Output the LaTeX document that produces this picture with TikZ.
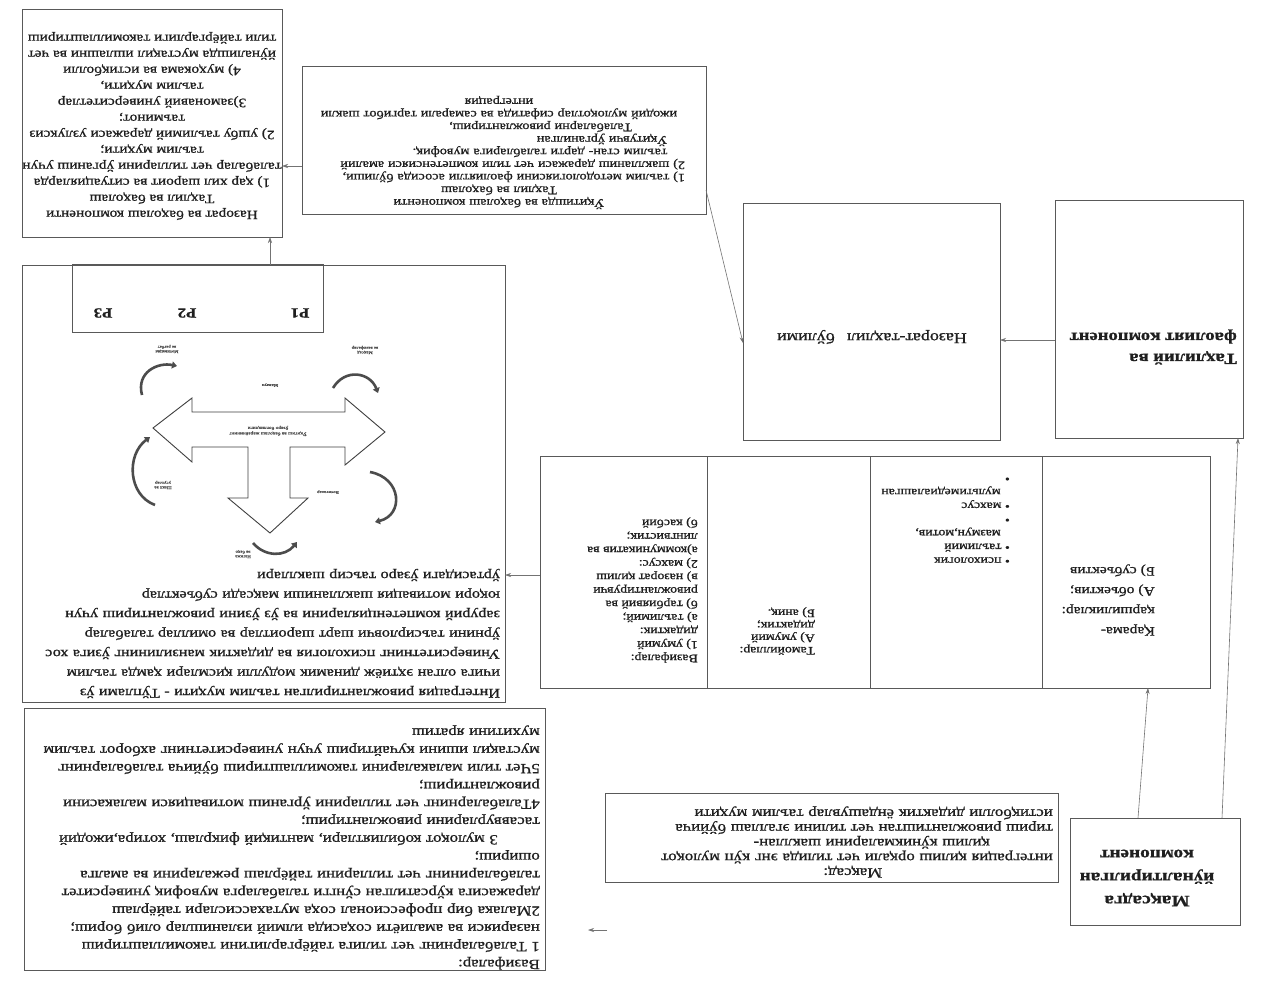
\documentclass[tikz,border=0pt]{standalone}
\usepackage{fontspec}
\setmainfont{Liberation Serif}[FakeStretch=1.2, FakeBold=1.0]
\usetikzlibrary{arrows.meta,calc}
\begin{document}
\begin{tikzpicture}[x=1pt,y=-1pt,
  bx/.style={draw=black!65, line width=0.8pt, inner sep=0pt, outer sep=0pt},
  tx/.style={rotate=180, inner sep=0pt, text=black!88},
  conn/.style={draw=black!55, line width=0.6pt, -{Stealth[length=6pt,width=4pt]}},
  curv/.style={draw=black!70, line width=2.6pt, -{Triangle[length=5pt,width=7pt]}},
  tiny/.style={rotate=180, inner sep=0pt, font=\fontsize{4}{4.6}\selectfont, text=black!70, align=center},
  bigarrow/.style={draw=black!75, line width=0.9pt, fill=white},
]
\useasboundingbox (0,0) rectangle (1284,980);
\fill[white] (0,0) rectangle (1284,980);

% ---------- boxes ----------
\node[bx,minimum width=260pt,minimum height=228pt] (tl) at (152,123) {};
\node[bx,minimum width=404pt,minimum height=148pt] (uq) at (504,140) {};
\node[bx,minimum width=483pt,minimum height=437pt] (big) at (263.5,483.5) {};
\node[bx,minimum width=251pt,minimum height=68pt] (pb) at (197.5,298) {};
\node[bx,minimum width=257pt,minimum height=237pt] (naz) at (871.5,321.5) {};
\node[bx,minimum width=188pt,minimum height=238pt] (tah) at (1149,319) {};
\node[bx,minimum width=167pt,minimum height=232pt] (ra) at (623.5,572) {};
\node[bx,minimum width=163pt,minimum height=232pt] (rb) at (788.5,572) {};
\node[bx,minimum width=172pt,minimum height=232pt] (rc) at (956,572) {};
\node[bx,minimum width=168pt,minimum height=232pt] (rd) at (1126,572) {};
\node[bx,minimum width=453pt,minimum height=89pt] (maq) at (831.5,837.5) {};
\node[bx,minimum width=170pt,minimum height=107pt] (mql) at (1155,871.5) {};
\node[bx,minimum width=521pt,minimum height=262pt] (vaz) at (284.5,839) {};

% ---------- texts ----------
\node[tx, align=center, font=\fontsize{12.8}{16}\selectfont] (tlt) at (152,126) {%
Назорат ва баҳолаш компоненти\\
Таҳлил ва баҳолаш\\
1) ҳар хил шароит ва ситуацияларда\\
талабалар чет тилларини ўрганиш учун\\
таълим муҳити;\\
2) ушбу таълимий даражаси узлуксиз\\
таъминот;\\
3)замонавий университетлар\\
таълим муҳити,\\
4) муҳокама ва истиқболли\\
йўналишда мустақил ишлашни ва чет\\
тили тайёргарлиги такомиллаштириш};

\node[tx, align=left, text width=372pt, font=\fontsize{11.8}{12.6}\selectfont] (uqt) at (499,152.5) {%
\makebox[\hsize]{Ўқитишда ва баҳолаш компоненти}\\
\makebox[\hsize]{Таҳлил ва баҳолаш}\\
1) таълим методологиясини фаолиятли асосида бўлиши,\\
2) шаклланиш даражаси чет тили компетенсияси амалий\\
\hspace*{1.5em}таълим стан- дарти талабларига мувофиқ.\\
\hspace*{1.5em}Ўқитувчи ўрганилган\\
\hspace*{4.5em}Талабаларни ривожлантириш,\\
\makebox[\hsize]{ижодий мулоқотлар сифатида ва самарали таргибот шакли}\\
\makebox[\hsize]{интеграция}};

\node[tx, align=left, text width=473pt, font=\fontsize{13.5}{19.5}\selectfont] (bigt) at (263.5,633.5) {%
\makebox[\hsize][s]{Интеграция ривожлантирилган таълим муҳити - Тўплами ўз}\\
\makebox[\hsize][s]{ичига олган эҳтиёж динамик модулли қисмлари ҳамда таълим}\\
\makebox[\hsize][s]{Университетнинг психология ва дидактик манзилининг ўзига хос}\\
\makebox[\hsize][s]{ўрнини таъсирловчи шарт шароитлар ва омиллар талабалар}\\
\makebox[\hsize][s]{зарурий компетенцияларини ва ўз ўзини ривожлантириш учун}\\
\makebox[\hsize][s]{юқори мотивация шаклланиши мақсади субъектлар}\\
ўртасидаги ўзаро таъсир шакллари};

\node[tx, font=\fontsize{14}{14}\selectfont\bfseries] (p1) at (300,313) {P1};
\node[tx, font=\fontsize{14}{14}\selectfont\bfseries] (p2) at (187,313) {P2};
\node[tx, font=\fontsize{14}{14}\selectfont\bfseries] (p3) at (103,313) {P3};

\node[tx, font=\fontsize{15}{18}\selectfont] (nazt) at (872,337) {Назорат-таҳлил\hspace{0.8em}бўлими};
\node[tx, anchor=west, align=left, font=\fontsize{15.5}{21}\selectfont\bfseries] (taht) at (1237,347) {Таҳлилий ва\\фаолият компонент};
\node[tx, align=center, font=\fontsize{16}{23}\selectfont\bfseries] (mqlt) at (1147,878) {Мақсадга\\йўналтирилган\\компонент};

\node[tx, align=left, text width=400pt, anchor=west, font=\fontsize{14}{14.75}\selectfont] (maqt) at (1053,842) {%
\makebox[\hsize]{Мақсад:}\\
интеграция қилиш орқали чет тилида энг кўп мулоқот\\
\hspace*{4.5em}қилиш кўникмаларини шакллан-\\
тириш ривожлантиштан чет тилини эгаллаш бўйича\\
истиқболли дидактик ёндашувлар таълим муҳити};

\node[tx, align=left, text width=500pt, anchor=west, font=\fontsize{14}{17.8}\selectfont] (vazt) at (540,847.5) {%
Вазифалар:\\
\makebox[\hsize][s]{1 Талабаларнинг чет тилига тайёргарлигини такомиллаштириш}\\
\makebox[\hsize][s]{назарияси ва амалиёти соҳасида илмий изланишлар олиб бориш;}\\
\makebox[\hsize][s]{2Малака бир профессионал соҳа мутахассислари тайёрлаш}\\
\makebox[\hsize][s]{даражасига кўрсатилган сўнгги талабаларга мувофиқ университет}\\
\makebox[\hsize][s]{талабаларининг чет тилларини тайёрлаш режаларини ва амалга}\\
ошириш;\\
\hspace*{3em}3 мулоқот кобилиятлари, мантиқий фикрлаш, хотира,ижодий\\
тасаввурларини ривожлантириш;\\
\makebox[\hsize][s]{4Талабаларнинг чет тилларини ўрганиш мотивацияси малакасини}\\
ривожлантириш;\\
\makebox[\hsize][s]{5Чет тили малакаларини такомиллаштириш бўйича талабаларнинг}\\
\makebox[\hsize][s]{мустақил ишини кучайтириш учун университетнинг ахборот таълим}\\
мухитини яратиш};

\node[tx, anchor=west, align=left, font=\fontsize{11.5}{13.5}\selectfont] (rat) at (698,590) {%
Вазифалар:\\
1) умумий\\
дидактик:\\
а) таълимий;\\
б) тарбиявий ва\\
ривожлантирувчи\\
в) назорат қилиш\\
2) махсус:\\
а)коммуникатив ва\\
лингвистик;\\
б) касбий};

\node[tx, anchor=west, align=left, font=\fontsize{11.5}{12.5}\selectfont] (rbt) at (815,631) {%
Тамойиллар:\\
А) умумий\\
дидактик;\\
Б) аниқ.};

\node[tx, anchor=west, align=left, font=\fontsize{11.5}{13.7}\selectfont] (rct) at (1010,519) {%
• психологик\\
• таълимий\\
\hspace*{0.8em}мазмун,мотив,\\
•\\
• махсус\\
\hspace*{0.8em}мультимедиалашган\\
•};

\node[tx, anchor=west, align=left, font=\fontsize{13}{20}\selectfont] (rdt) at (1155,600) {%
Қарама-\\
қаршиликлар:\\
А) объектив;\\
Б) субъектив};

% ---------- diagram inside big box ----------
\draw[bigarrow] (153,428) -- (192,398) -- (192,412) -- (345,412) -- (345,398) -- (385,432)
  -- (345,465) -- (345,447) -- (290,447) -- (290,498) -- (308,498) -- (270,533)
  -- (228,498) -- (248,498) -- (248,447) -- (192,447) -- (192,462) -- cycle;
\node[tiny, font=\fontsize{4.5}{5.5}\selectfont] (arrt) at (268,431) {Ўқитиш ва баҳолаш жараёнининг\\ ўзаро боғлиқлиги};
\draw[curv] (142,395) .. controls (136,372) and (158,362) .. (177,366);
\draw[curv] (333,388) .. controls (345,368) and (370,372) .. (378,393);
\draw[curv, {Triangle[length=5pt,width=7pt]}-] (150,437) .. controls (126,455) and (128,495) .. (155,505);
\draw[curv] (370,472) .. controls (402,478) and (404,515) .. (375,522);
\draw[curv] (253,543) .. controls (265,557) and (285,557) .. (297,542);
\node[tiny] (l1) at (167,349) {Мотивация\\ ва рағбат};
\node[tiny] (l2) at (365,350) {Мақсад\\ ва вазифалар};
\node[tiny] (l3) at (270,385) {Мазмун};
\node[tiny] (l4) at (163,485) {Шакл ва\\ усуллар};
\node[tiny] (l5) at (328,492) {Воситалар};
\node[tiny] (l6) at (243,554) {Натижа\\ ва баҳо};

% ---------- connectors ----------
\coordinate (y340) at (0,340);
\coordinate (y343) at (0,343);
\coordinate (y190) at (0,190);
\coordinate (y166) at (0,166);
\coordinate (y575) at (0,575);
\coordinate (x270) at (270,0);
\coordinate (x1138) at (1138,0);
\coordinate (x1148) at (1148,0);
\coordinate (x1222) at (1222,0);
\coordinate (x1238) at (1238,0);
\coordinate (st1) at (607,930);
\coordinate (st2) at (588,930);
\draw[conn] (tah.west |- y340) -- (naz.east |- y340);
\draw[conn] (uq.east |- y190) -- (naz.west |- y343);
\draw[conn] (uq.west |- y166) -- (tl.east |- y166);
\draw[conn] (x270 |- big.north) -- (x270 |- tl.south);
\draw[conn] (ra.west |- y575) -- (big.east |- y575);
\draw[conn] (x1138 |- mql.north) -- (x1148 |- rd.south);
\draw[conn] (x1222 |- mql.north) -- (x1238 |- tah.south);
\draw[conn] (st1) -- (st2);
\end{tikzpicture}
\end{document}
